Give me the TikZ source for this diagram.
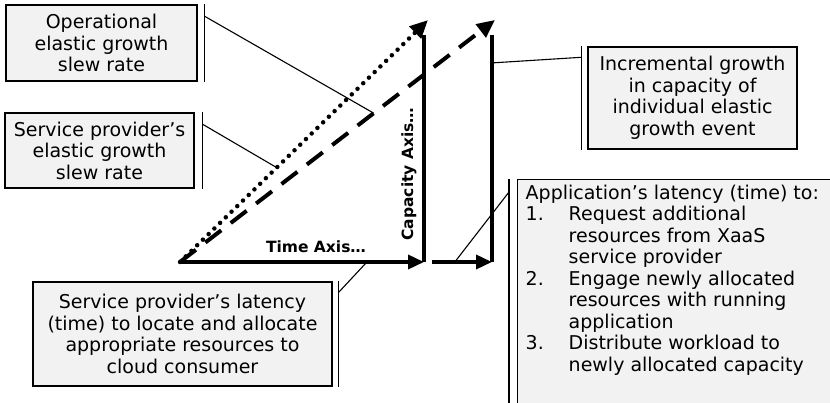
\documentclass[tikz,border=0pt]{standalone}
\usepackage{fontspec}
\setmainfont{DejaVu Sans}
\usetikzlibrary{arrows.meta, calc}
\definecolor{boxc}{RGB}{242,242,242}
\definecolor{inkc}{RGB}{0,0,0}
\tikzset{
  callout/.style={
    rectangle, draw=inkc, line width=1.4pt, fill=boxc,
    inner sep=0pt, align=center, text=inkc,
    font=\fontsize{19}{21.5}\selectfont
  },
  accent/.style={draw=inkc, line width=1.5pt},
  leader/.style={draw=inkc, line width=1.1pt},
  axis/.style={draw=inkc, line width=3.5pt},
  axisarr/.style={axis, -{Triangle[length=16pt, width=14pt]}},
  dotline/.style={draw=inkc, line width=4.5pt, line cap=round,
                  dash pattern=on 0pt off 8pt, -{Triangle[length=18pt, width=16pt]}},
  dashline/.style={draw=inkc, line width=4pt,
                   dash pattern=on 20pt off 12pt, -{Triangle[length=18pt, width=16pt]}},
  axlbl/.style={font=\fontsize{15.5}{18}\selectfont\bfseries, text=inkc, inner sep=0pt},
}
\newcommand{\itm}[1]{\makebox[43pt][l]{#1}}

\begin{document}
\begin{tikzpicture}[x=1pt, y=-1pt]
  \useasboundingbox (0,0) rectangle (830,403);

  % the two growth curves and the axes
  \coordinate (orig) at (180,262);
  \coordinate (timeend) at (424,262);
  \coordinate (captop) at (424,35);
  \coordinate (dottip) at (428,20);
  \coordinate (dashtip) at (495,20);
  \coordinate (stepbot) at (492,262);
  \coordinate (steptop) at (492,35);
  \coordinate (stepstart) at (432,262);

  \draw[axis] (timeend) -- (captop);
  \draw[axis] (stepbot) -- (steptop);
  \draw[dotline] (orig) -- (dottip);
  \draw[dashline] (orig) -- (dashtip);
  \draw[axisarr] (orig) -- (timeend);
  \draw[axisarr] (stepstart) -- (stepbot);

  \node[axlbl] (timelbl) at (316,247) {Time Axis…};
  \node[axlbl, rotate=90] (caplbl) at (409,174) {Capacity Axis…};

  % callouts
  \node[callout, minimum width=191pt, minimum height=76pt] (opslew) at (101.5,43)
    {Operational\\elastic growth\\slew rate};
  \node[callout, minimum width=189pt, minimum height=75pt] (spslew) at (99.5,150.5)
    {Service provider’s\\elastic growth\\slew rate};
  \node[callout, minimum width=209pt, minimum height=102pt] (incr) at (692.5,98)
    {Incremental growth\\in capacity of\\individual elastic\\growth event};
  \node[callout, minimum width=299pt, minimum height=104pt] (splat) at (182.5,334)
    {Service provider’s latency\\(time) to locate and allocate\\appropriate resources to\\cloud consumer};
  \node[callout, anchor=north west, minimum width=345pt, minimum height=240pt] (appbox) at (517,179) {};
  \node[callout, fill=none, draw=none, anchor=north west, align=left] (applat) at (525,184)
    {Application’s latency (time) to:\\
     \itm{1.}Request additional\\
     \itm{}resources from XaaS\\
     \itm{}service provider\\
     \itm{2.}Engage newly allocated\\
     \itm{}resources with running\\
     \itm{}application\\
     \itm{3.}Distribute workload to\\
     \itm{}newly allocated capacity};

  % accent bars beside the callouts
  \draw[accent] ([xshift=7pt]opslew.north east) -- ([xshift=7pt]opslew.south east);
  \draw[accent] ([xshift=8pt]spslew.north east) -- ([xshift=8pt]spslew.south east);
  \draw[accent] ([xshift=-6pt]incr.north west) -- ([xshift=-6pt]incr.south west);
  \draw[accent] ([xshift=6pt]splat.north east) -- ([xshift=6pt]splat.south east);
  \draw[accent] ([xshift=-8pt]appbox.north west) -- ([xshift=-8pt]appbox.south west);

  % leaders
  \draw[leader] ([xshift=7pt, yshift=-12pt]opslew.north east) -- ($(orig)!0.615!(dashtip)$);
  \draw[leader] ([xshift=8pt, yshift=-12pt]spslew.north east) -- ($(orig)!0.39!(dottip)$);
  \draw[leader] ([xshift=-6pt, yshift=-11pt]incr.north west) -- ($(stepbot)!0.877!(steptop)$);
  \draw[leader] ([xshift=6pt, yshift=-11pt]splat.north east) -- ($(orig)!0.766!(timeend)$);
  \draw[leader] ([xshift=-8pt, yshift=-13pt]appbox.north west) -- ($(stepstart)!0.38!(stepbot)$);

\end{tikzpicture}
\end{document}
